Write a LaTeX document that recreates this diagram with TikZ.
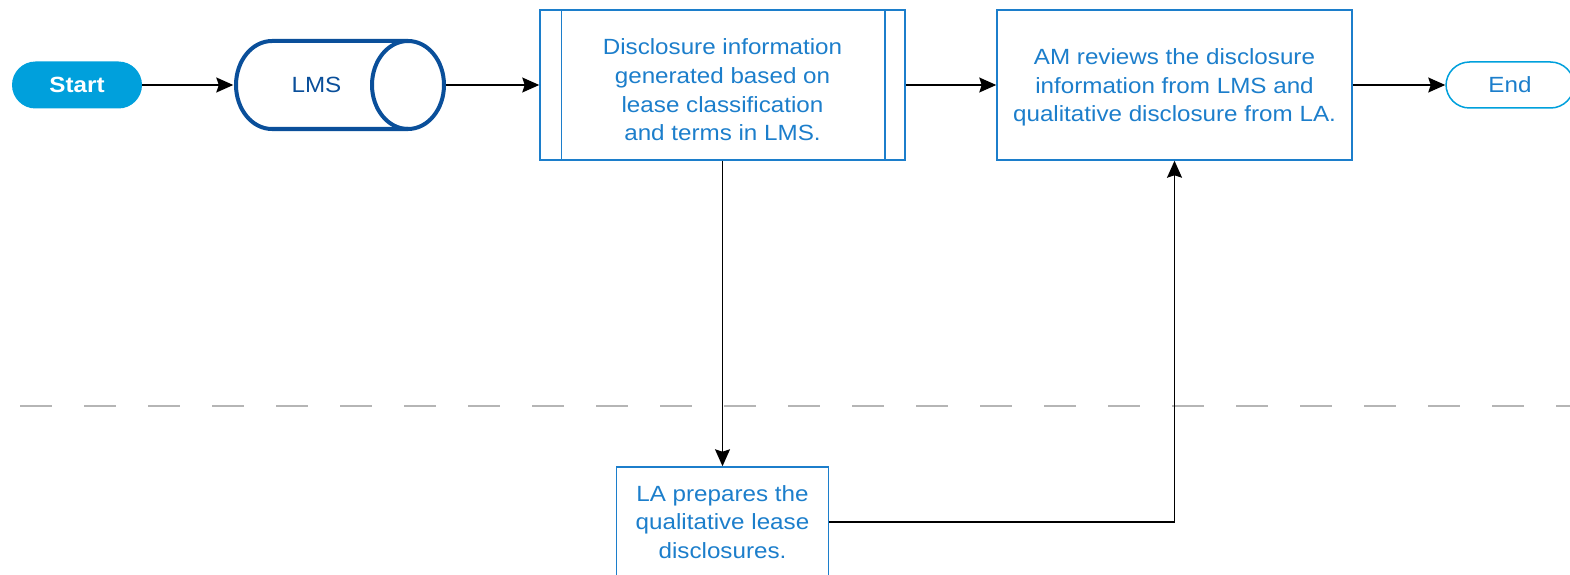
\documentclass[tikz,border=0pt]{standalone}
\usepackage{fontspec}
\setmainfont{Liberation Sans}[FakeStretch=1.1]
\usetikzlibrary{arrows.meta}
\definecolor{kblue}{HTML}{1C7ECB}
\definecolor{kdark}{HTML}{0A4F9A}
\definecolor{klight}{HTML}{00A0DC}
\definecolor{kgrey}{HTML}{B5B5B5}
\begin{document}
\begin{tikzpicture}[x=1pt,y=-1pt,
  txt/.style={font=\fontsize{22}{28.7}\selectfont, align=center, inner sep=0pt},
  box/.style={txt, rectangle, draw=kblue, text=kblue, line width=1.5pt},
  pill/.style={txt, rectangle, rounded corners=23.5pt, minimum height=47pt, minimum width=130pt},
  flow/.style={line width=1.5pt, -{Stealth[length=17pt,width=15pt,inset=2.5pt]}},
  divider/.style={kgrey, line width=2pt, dash pattern=on 32pt off 32pt},
]
\useasboundingbox (0,0) rectangle (1570,575);

% swimlane divider
\coordinate (dl) at (20,406);
\coordinate (dr) at (1570,406);
\draw[divider] (dl) -- (dr);

% terminators
\node[pill, fill=klight, text=white, font=\fontsize{22}{28.7}\selectfont\bfseries] (start) at (77,85) {Start};
\node[pill, draw=klight, line width=1.5pt, text=kblue, minimum width=128pt, minimum height=46pt] (end) at (1510,85) {End};

% LMS data store (horizontal cylinder)
\node[txt, minimum width=212pt, minimum height=92pt,
      label={[txt, text=kdark, xshift=-23pt]center:LMS}] (lms) at (339.5,85) {};
\draw[kdark, line width=4pt]
  (408,41) -- (272,41)
  .. controls (252.1,41) and (236,60.7) .. (236,85)
  .. controls (236,109.3) and (252.1,129) .. (272,129) -- (408,129);
\draw[kdark, line width=4pt] (408,85) ellipse [x radius=36, y radius=44];

% predefined process
\node[box, minimum width=365pt, minimum height=150pt] (proc) at (722.5,85)
  {\rule{0pt}{26pt}Disclosure information\\generated based on\\lease classification\\and terms in LMS.};
\draw[kblue, line width=1.5pt] ([xshift=22pt]proc.north west) -- ([xshift=22pt]proc.south west);
\draw[kblue, line width=1.5pt] ([xshift=-21pt]proc.north east) -- ([xshift=-21pt]proc.south east);

% review step
\node[box, minimum width=355pt, minimum height=150pt] (am) at (1174.5,85)
  {\rule{0pt}{21pt}AM reviews the disclosure\\information from LMS and\\qualitative disclosure from LA.};

% lease accountant step
\node[box, minimum width=212pt, minimum height=110pt] (la) at (722.5,522)
  {LA prepares the\\qualitative lease\\disclosures.};

% connectors
\draw[flow] (start) -- (lms);
\draw[flow] (lms) -- (proc);
\draw[flow] (proc) -- (am);
\draw[flow] (am) -- (end);
\draw[flow] (proc) -- (la);
\draw[flow] (la.east) -| (am.south);
\end{tikzpicture}
\end{document}
